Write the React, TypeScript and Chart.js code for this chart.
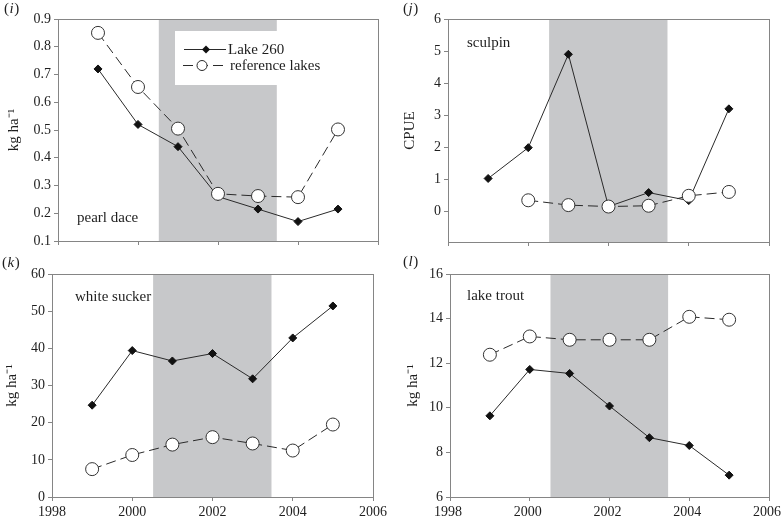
import React, { useEffect, useRef } from 'react';
import { Chart, registerables } from 'chart.js';

Chart.register(...registerables);

// ---------- data ----------
const years = [1999, 2000, 2001, 2002, 2003, 2004, 2005];
const seriesNames = ['Lake 260', 'reference lakes'];

const pearlDaceLake260 = [0.72, 0.52, 0.44, 0.26, 0.215, 0.17, 0.215];
const pearlDaceReference = [0.85, 0.655, 0.505, 0.27, 0.262, 0.258, 0.502];

const sculpinLake260 = [1.03, 1.99, 4.9, 0.155, 0.59, 0.34, 3.2];
const sculpinReference = [null, 0.35, 0.2, 0.155, 0.18, 0.49, 0.61];

const whiteSuckerLake260 = [24.7, 39.4, 36.6, 38.6, 31.8, 42.8, 51.4];
const whiteSuckerReference = [7.5, 11.3, 14.1, 16.1, 14.4, 12.5, 19.5];

const lakeTroutLake260 = [9.64, 11.72, 11.54, 10.08, 8.66, 8.31, 6.98];
const lakeTroutReference = [12.38, 13.2, 13.05, 13.05, 13.05, 14.08, 13.95];

const xTickValues = [1998, 2000, 2002, 2004, 2006];
const pearlDaceTicks = [0.1, 0.2, 0.3, 0.4, 0.5, 0.6, 0.7, 0.8, 0.9];
const sculpinTicks = [0, 1, 2, 3, 4, 5, 6];
const whiteSuckerTicks = [0, 10, 20, 30, 40, 50, 60];
const lakeTroutTicks = [6, 8, 10, 12, 14, 16];

const shadedYears = [2000.52, 2003.47];

const panelLetters = ['i', 'j', 'k', 'l'];
const speciesNames = ['pearl dace', 'sculpin', 'white sucker', 'lake trout'];
const yTitles = ['kg ha\u207B\u00B9', 'CPUE', 'kg ha\u207B\u00B9', 'kg ha\u207B\u00B9'];

// ---------- styles ----------
const FONT = '"Liberation Serif", "Times New Roman", serif';
const AXIS = '#858585';
const TEXT = '#1e1e1e';
const SHADE = '#c7c8ca';
const LINE = '#2a2a2a';

type PanelSpec = {
  idx: number;
  lake: (number | null)[];
  ref: (number | null)[];
  yMin: number;
  yMax: number;
  yTicks: number[];
  decimals: number;
  canvasLeft: number;
  canvasTop: number;
  w: number;
  h: number;
  plotLeft: number;
  plotTop: number;
  padRight: number;
  xAxisH: number;
  showX: boolean;
  labelOffset: number;
  titleCenter: number;
  letterPos: [number, number];
  speciesPos: [number, number];
  legend: boolean;
};

const panels: PanelSpec[] = [
  {
    idx: 0, lake: pearlDaceLake260, ref: pearlDaceReference,
    yMin: 0.1, yMax: 0.9, yTicks: pearlDaceTicks, decimals: 1,
    canvasLeft: 0, canvasTop: 0, w: 390, h: 258,
    plotLeft: 58, plotTop: 19, padRight: 12, xAxisH: 17, showX: false, labelOffset: 0,
    titleCenter: 14, letterPos: [4, 9], speciesPos: [77, 218], legend: true,
  },
  {
    idx: 1, lake: sculpinLake260, ref: sculpinReference,
    yMin: -0.95, yMax: 6, yTicks: sculpinTicks, decimals: 0,
    canvasLeft: 390, canvasTop: 0, w: 391, h: 258,
    plotLeft: 58, plotTop: 19, padRight: 12, xAxisH: 16, showX: false, labelOffset: 0,
    titleCenter: 20, letterPos: [13, 9], speciesPos: [77, 43], legend: false,
  },
  {
    idx: 2, lake: whiteSuckerLake260, ref: whiteSuckerReference,
    yMin: 0, yMax: 60, yTicks: whiteSuckerTicks, decimals: 0,
    canvasLeft: 0, canvasTop: 250, w: 390, h: 269,
    plotLeft: 52, plotTop: 24, padRight: 17, xAxisH: 22, showX: true, labelOffset: 0,
    titleCenter: 12, letterPos: [2, 13], speciesPos: [75, 47], legend: false,
  },
  {
    idx: 3, lake: lakeTroutLake260, ref: lakeTroutReference,
    yMin: 6, yMax: 16, yTicks: lakeTroutTicks, decimals: 0,
    canvasLeft: 390, canvasTop: 250, w: 391, h: 269,
    plotLeft: 60, plotTop: 24, padRight: 12, xAxisH: 22, showX: true, labelOffset: -2,
    titleCenter: 23, letterPos: [13, 12], speciesPos: [77, 46], legend: false,
  },
];

function drawDiamond(ctx: CanvasRenderingContext2D, x: number, y: number, r: number) {
  ctx.beginPath();
  ctx.moveTo(x, y - r);
  ctx.lineTo(x + r, y);
  ctx.lineTo(x, y + r);
  ctx.lineTo(x - r, y);
  ctx.closePath();
  ctx.fillStyle = '#111';
  ctx.fill();
}

const decorPlugin = {
  id: 'panelDecor',
  beforeDatasetsDraw(chart: any, _args: any, opts: any) {
    const { ctx, chartArea, scales } = chart;
    const x1 = scales.x.getPixelForValue(shadedYears[0]);
    const x2 = scales.x.getPixelForValue(shadedYears[1]);
    ctx.save();
    ctx.fillStyle = SHADE;
    ctx.fillRect(x1, chartArea.top, x2 - x1, chartArea.bottom - chartArea.top);
    if (opts.legend) {
      ctx.fillStyle = '#ffffff';
      ctx.fillRect(175, 31, 160, 54);
    }
    ctx.restore();
  },
  afterDatasetsDraw(chart: any, _args: any, opts: any) {
    const { ctx, chartArea } = chart;
    ctx.save();
    // box around plot area
    ctx.strokeStyle = AXIS;
    ctx.lineWidth = 1;
    ctx.strokeRect(
      Math.round(chartArea.left) + 0.5,
      Math.round(chartArea.top) + 0.5,
      Math.round(chartArea.right - chartArea.left),
      Math.round(chartArea.bottom - chartArea.top)
    );
    // species name
    ctx.fillStyle = TEXT;
    ctx.font = `15px ${FONT}`;
    ctx.textBaseline = 'middle';
    ctx.textAlign = 'left';
    ctx.fillText(opts.species, opts.speciesPos[0], opts.speciesPos[1]);
    // legend
    if (opts.legend) {
      const ds = chart.data.datasets;
      ctx.strokeStyle = LINE;
      ctx.lineWidth = 1;
      ctx.beginPath();
      ctx.moveTo(184, 49.5);
      ctx.lineTo(226, 49.5);
      ctx.stroke();
      drawDiamond(ctx, 206, 49.5, 4);
      ctx.fillStyle = TEXT;
      ctx.fillText(ds[0].label, 228, 50);
      ctx.beginPath();
      ctx.setLineDash([10, 5]);
      ctx.moveTo(183, 65.5);
      ctx.lineTo(224, 65.5);
      ctx.stroke();
      ctx.setLineDash([]);
      ctx.beginPath();
      ctx.arc(202, 65.5, 5, 0, Math.PI * 2);
      ctx.fillStyle = '#fff';
      ctx.fill();
      ctx.stroke();
      ctx.fillStyle = TEXT;
      ctx.fillText(ds[1].label, 230, 66);
    }
    // panel letter
    const [lx, ly] = opts.letterPos;
    ctx.font = `15px ${FONT}`;
    ctx.fillText('(', lx, ly);
    let cx = lx + ctx.measureText('(').width;
    ctx.font = `italic 15px ${FONT}`;
    ctx.fillText(opts.letter, cx + 0.5, ly);
    cx += ctx.measureText(opts.letter).width + 1;
    ctx.font = `15px ${FONT}`;
    ctx.fillText(')', cx, ly);
    ctx.restore();
  },
};

function Panel({ spec }: { spec: PanelSpec }) {
  const ref = useRef<HTMLCanvasElement>(null);
  useEffect(() => {
    const canvas = ref.current;
    if (!canvas) return;
    const lakeData = years
      .map((x, i) => ({ x, y: spec.lake[i] }))
      .filter((p) => p.y !== null);
    const refData = years
      .map((x, i) => ({ x, y: spec.ref[i] }))
      .filter((p) => p.y !== null);
    const tickFont = { family: FONT, size: 14 };
    const chart = new Chart(canvas, {
      type: 'line',
      data: {
        datasets: [
          {
            label: seriesNames[0],
            data: lakeData as any,
            order: 1,
            borderColor: LINE,
            borderWidth: 1,
            pointStyle: 'rectRot',
            pointRadius: 4,
            pointBackgroundColor: '#111',
            pointBorderColor: '#111',
            pointBorderWidth: 1,
            fill: false,
            tension: 0,
          },
          {
            label: seriesNames[1],
            data: refData as any,
            order: 0,
            borderColor: LINE,
            borderWidth: 1,
            borderDash: [10, 5],
            pointStyle: 'circle',
            pointRadius: 6.5,
            pointBackgroundColor: '#ffffff',
            pointBorderColor: '#333',
            pointBorderWidth: 1,
            fill: false,
            tension: 0,
          },
        ],
      },
      options: {
        responsive: false,
        animation: false,
        events: [],
        layout: { padding: { left: 0, top: spec.plotTop, right: spec.padRight, bottom: 0 } },
        plugins: {
          legend: { display: false },
          tooltip: { enabled: false },
          panelDecor: {
            legend: spec.legend,
            species: speciesNames[spec.idx],
            speciesPos: spec.speciesPos,
            letter: panelLetters[spec.idx],
            letterPos: spec.letterPos,
          },
        } as any,
        scales: {
          x: {
            type: 'linear',
            min: 1998,
            max: 2006,
            afterBuildTicks: (s: any) => {
              s.ticks = xTickValues.map((v) => ({ value: v }));
            },
            ticks: {
              autoSkip: false,
              maxRotation: 0,
              padding: 3,
              labelOffset: spec.labelOffset,
              color: TEXT,
              font: tickFont,
              callback: (v: any) => (spec.showX ? String(v) : ''),
            },
            grid: {
              display: true,
              drawOnChartArea: false,
              drawTicks: true,
              tickLength: 4,
              color: AXIS,
            },
            border: { display: true, color: AXIS, width: 1 },
            afterFit: (s: any) => {
              s.height = spec.xAxisH;
              s.paddingLeft = 0;
              s.paddingRight = 0;
            },
          },
          y: {
            type: 'linear',
            min: spec.yMin,
            max: spec.yMax,
            afterBuildTicks: (s: any) => {
              s.ticks = spec.yTicks.map((v) => ({ value: v }));
            },
            ticks: {
              autoSkip: false,
              padding: 3,
              color: TEXT,
              font: tickFont,
              callback: (v: any) => Number(v).toFixed(spec.decimals),
            },
            grid: {
              display: true,
              drawOnChartArea: false,
              drawTicks: true,
              tickLength: 4,
              color: AXIS,
            },
            border: { display: true, color: AXIS, width: 1 },
            title: {
              display: true,
              text: yTitles[spec.idx],
              color: TEXT,
              font: { family: FONT, size: 15 },
              padding: { top: spec.titleCenter - 9, bottom: 0 },
            },
            afterFit: (s: any) => {
              s.width = spec.plotLeft;
              s.paddingTop = 0;
              s.paddingBottom = 0;
            },
          },
        },
      } as any,
      plugins: [decorPlugin],
    });
    return () => chart.destroy();
  }, [spec]);
  return (
    <canvas
      ref={ref}
      width={spec.w}
      height={spec.h}
      style={{
        position: 'absolute',
        left: spec.canvasLeft,
        top: spec.canvasTop,
        width: spec.w,
        height: spec.h,
      }}
    />
  );
}

export default function App() {
  return (
    <div
      style={{
        position: 'absolute',
        left: 0,
        top: 0,
        width: 781,
        height: 519,
        background: '#ffffff',
        overflow: 'hidden',
      }}
    >
      {panels.map((p) => (
        <Panel key={p.idx} spec={p} />
      ))}
    </div>
  );
}
